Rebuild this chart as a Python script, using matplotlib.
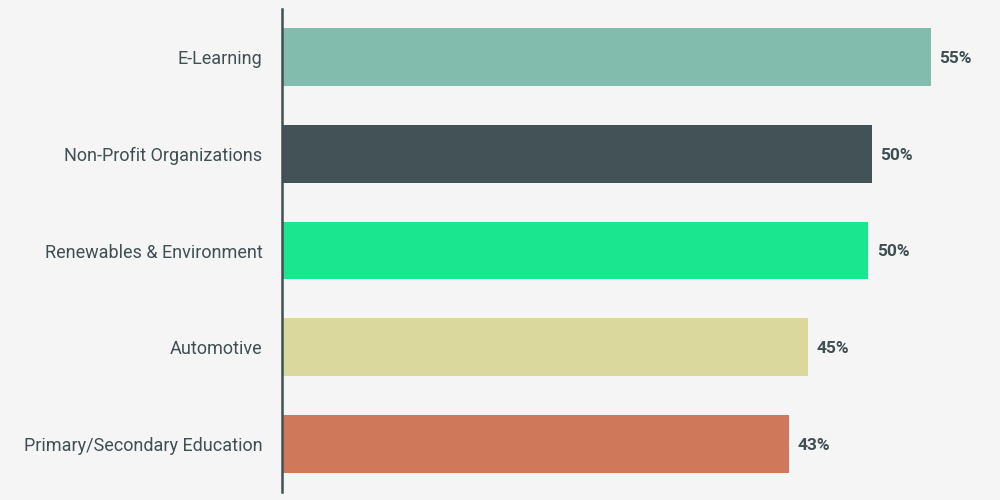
import matplotlib.pyplot as plt

categories = ['E-Learning', 'Non-Profit Organizations', 'Renewables & Environment',
              'Automotive', 'Primary/Secondary Education']
values = [55, 50, 49.7, 44.6, 43]
value_labels = ['55%', '50%', '50%', '45%', '43%']
colors = ['#82bcad', '#425256', '#19e68f', '#dbd89d', '#d0785a']

bg = '#f5f5f5'
text_color = '#3f4f52'
plt.rcParams['font.family'] = ['Roboto', 'DejaVu Sans']

fig = plt.figure(figsize=(10, 5), dpi=100, facecolor=bg)
ax = fig.add_axes([0.282, 0.016, 0.718, 0.966])
ax.set_facecolor(bg)

ypos = list(range(len(categories)))
ax.barh(ypos, values, height=0.6, color=colors)
ax.set_ylim(len(categories) - 0.5, -0.5)
ax.set_xlim(0, 60.85)

for y, v, lab in zip(ypos, values, value_labels):
    ax.annotate(lab, (v, y), xytext=(6, -1), textcoords='offset points',
                va='center', ha='left', fontsize=12.5, fontweight='bold', color=text_color)

ax.set_yticks(ypos)
ax.set_yticklabels(categories, fontsize=13, color=text_color)
ax.tick_params(axis='y', length=0, pad=14)
ax.set_xticks([])
for s in ['top', 'right', 'bottom']:
    ax.spines[s].set_visible(False)
ax.spines['left'].set_color(text_color)
ax.spines['left'].set_linewidth(1.8)

fig.savefig('out.png', dpi=100, facecolor=bg)
